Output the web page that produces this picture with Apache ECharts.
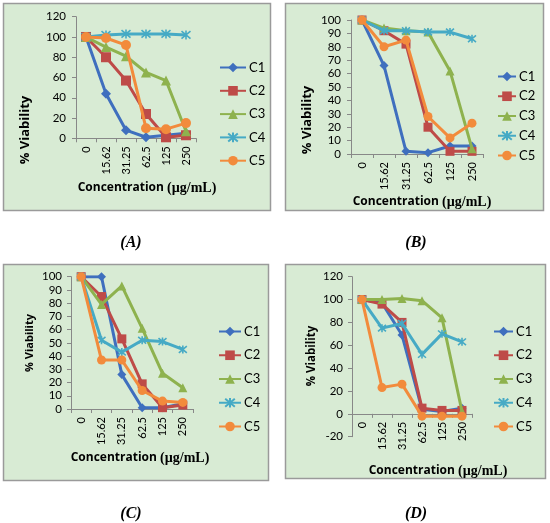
<!DOCTYPE html>
<html><head><meta charset="utf-8">
<script src="https://cdn.jsdelivr.net/npm/echarts@6/dist/echarts.min.js"></script>
<style>html,body{margin:0;padding:0;background:#fff}#c{width:550px;height:523px}</style>
</head><body><div id="c"></div>
<script>
// ---- data ----
const categories = ['0', '15.62', '31.25', '62.5', '125', '250'];
const seriesNames = ['C1', 'C2', 'C3', 'C4', 'C5'];
const panelLabels = ['(A)', '(B)', '(C)', '(D)'];

const A_C1 = [100, 44, 8, 1, 3, 5];
const A_C2 = [100, 80, 57, 24, 1, 3];
const A_C3 = [100, 90, 81, 65, 57, 7];
const A_C4 = [100, 102, 103, 103, 103, 102];
const A_C5 = [100, 99, 92, 10, 9, 15];

const B_C1 = [100, 66, 2, 1, 6, 6];
const B_C2 = [100, 92, 82, 20, 2, 2];
const B_C3 = [100, 94, 92, 91, 62, 4];
const B_C4 = [100, 92, 92, 91, 91, 86];
const B_C5 = [100, 80, 85, 28, 12, 23];

const C_C1 = [100, 100, 26, 1, 1, 4];
const C_C2 = [100, 85, 53, 19, 1, 3];
const C_C3 = [100, 79, 93, 61, 27, 16];
const C_C4 = [100, 52, 43, 52, 51, 45];
const C_C5 = [100, 37, 37, 14, 6, 5];

const D_C1 = [100, 97, 69, 4, 2, 5];
const D_C2 = [100, 96, 80, 5, 3, 3];
const D_C3 = [100, 100, 101, 99, 84, 2];
const D_C4 = [100, 75, 79, 52, 70, 63];
const D_C5 = [100, 23, 26, -2, -2, -2];

const yMin = [0, 0, 0, -20];
const yMax = [120, 100, 100, 120];
const yStep = [20, 10, 10, 20];

// ---- styling ----
const colors = ['#3F6FBE', '#BE4B48', '#8EB24E', '#46AAC5', '#F28B3C'];
const symbols = ['diamond', 'rect', 'triangle', 'path://M0,0L10,10M10,0L0,10M5,-1L5,11', 'circle'];
const panelData = [
  [A_C1, A_C2, A_C3, A_C4, A_C5],
  [B_C1, B_C2, B_C3, B_C4, B_C5],
  [C_C1, C_C2, C_C3, C_C4, C_C5],
  [D_C1, D_C2, D_C3, D_C4, D_C5]
];
const grids = [
  {left: 76, top: 16.7, width: 120, height: 121.6},
  {left: 351, top: 20, width: 132, height: 134},
  {left: 71, top: 276.7, width: 122, height: 132.3},
  {left: 352, top: 276.7, width: 120, height: 160}
];
const boxes = [
  [3, 3, 267, 207], [285, 3, 258, 207], [3, 264, 265, 216], [285, 264, 260, 214]
];
const legendPos = [
  {left: 214, top: 56, itemWidth: 26, gap: 22.3},
  {left: 492, top: 65, itemWidth: 18, gap: 18.75},
  {left: 213, top: 320, itemWidth: 22, gap: 22.75},
  {left: 488, top: 320, itemWidth: 19, gap: 22.75}
];
const yLab = [[25, 130, 13], [307, 120, 13], [30, 343, 11], [312, 356, 11.5]];
const xTitle = [[147, 188], [422, 202], [140, 458], [438, 471]];
const capPos = [[131, 243], [416, 243], [131, 514], [416, 514]];
const symSize = [10, 9, 9, 9];
const yLabMargin = [10, 10, 9, 9];
const axFont = 'Lato';

const xAxes = [], yAxes = [], series = [], legends = [], graphics = [];
for (let p = 0; p < 4; p++) {
  // move the category axis (line, ticks and labels) up to the value 0 when the range goes negative
  const zeroOffset = -(0 - yMin[p]) / (yMax[p] - yMin[p]) * grids[p].height;
  xAxes.push({
    type: 'category', gridIndex: p, data: categories, boundaryGap: true,
    position: 'bottom', offset: zeroOffset,
    axisLine: {onZero: false, lineStyle: {color: '#888', width: 1}},
    axisTick: {show: true, length: 4, lineStyle: {color: '#888'}},
    axisLabel: {rotate: 90, interval: 0, margin: 8, color: '#000', fontSize: 11, fontFamily: axFont},
    splitLine: {show: false}
  });
  yAxes.push({
    type: 'value', gridIndex: p, min: yMin[p], max: yMax[p], interval: yStep[p],
    axisLine: {show: true, onZero: false, lineStyle: {color: '#888', width: 1}},
    axisTick: {show: true, length: 4, lineStyle: {color: '#888'}},
    axisLabel: {margin: yLabMargin[p], color: '#000', fontSize: 11.5, fontFamily: axFont},
    splitLine: {show: false}
  });
  for (let s = 0; s < 5; s++) {
    series.push({
      type: 'line', name: seriesNames[s], xAxisIndex: p, yAxisIndex: p,
      data: panelData[p][s], symbol: symbols[s],
      symbolSize: s === 3 ? symSize[p] - 1 : symSize[p],
      showSymbol: true, smooth: false,
      lineStyle: {width: 3, color: colors[s]},
      itemStyle: s === 3 ? {color: colors[s], borderColor: colors[s], borderWidth: 1.6} : {color: colors[s]},
      emphasis: {disabled: true}, z: 2 + s
    });
  }
  const lp = legendPos[p];
  legends.push({
    data: seriesNames, orient: 'vertical', left: lp.left, top: lp.top,
    itemWidth: lp.itemWidth, itemHeight: 12, itemGap: lp.gap - 12,
    selectedMode: false,
    textStyle: {fontSize: 13, fontFamily: axFont, color: '#000', padding: [0, 0, 0, -2]}
  });
  const b = boxes[p];
  graphics.push({
    type: 'rect', z: -10, silent: true,
    shape: {x: b[0] + 0.5, y: b[1] + 0.5, width: b[2], height: b[3]},
    style: {fill: '#D8EBD4', stroke: '#9a9a9a', lineWidth: 1.5}
  });
  graphics.push({
    type: 'text', z: 5, x: yLab[p][0], y: yLab[p][1], rotation: Math.PI / 2,
    style: {text: '% Viability', font: 'bold ' + yLab[p][2] + 'px "Open Sans"', fill: '#000',
      align: 'center', verticalAlign: 'middle', textAlign: 'center', textVerticalAlign: 'middle'}
  });
  graphics.push({
    type: 'text', z: 5, x: xTitle[p][0], y: xTitle[p][1],
    style: {
      text: '{a|Concentration }{b|(µg/mL)}',
      rich: {
        a: {font: 'bold 12px "Open Sans"', fill: '#000'},
        b: {font: 'bold 14px "Liberation Serif"', fill: '#000'}
      },
      align: 'center', verticalAlign: 'middle', textAlign: 'center', textVerticalAlign: 'middle'
    }
  });
  graphics.push({
    type: 'text', z: 5, x: capPos[p][0], y: capPos[p][1],
    style: {text: panelLabels[p], font: 'italic bold 16px "Liberation Serif"', fill: '#000',
      align: 'center', verticalAlign: 'middle', textAlign: 'center', textVerticalAlign: 'middle'}
  });
}

const chart = echarts.init(document.getElementById('c'));
chart.setOption({
  animation: false,
  backgroundColor: '#fff',
  grid: grids.map(g => Object.assign({containLabel: false}, g)),
  xAxis: xAxes, yAxis: yAxes, series: series, legend: legends,
  graphic: {elements: graphics}
});
</script></body></html>
